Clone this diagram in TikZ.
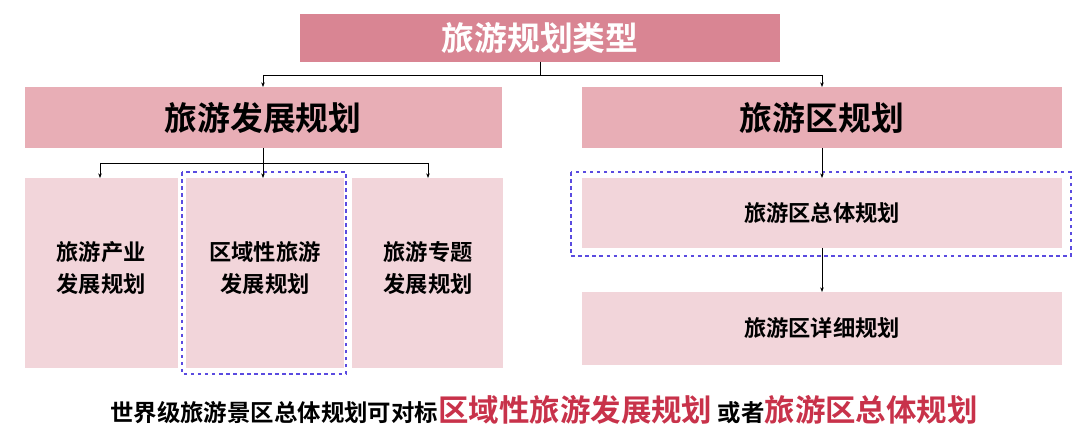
\documentclass[tikz,border=0pt]{standalone}
\usepackage{fontspec}
\setmainfont{Noto Sans CJK SC}
\newfontfamily\cjkb{Noto Sans CJK SC Bold}
\definecolor{topc}{HTML}{D98593}
\definecolor{midc}{HTML}{E8AEB6}
\definecolor{lowc}{HTML}{F2D5DA}
\definecolor{redt}{HTML}{C8324A}
\definecolor{dblue}{HTML}{5A4BE0}
\begin{document}
\begin{tikzpicture}[x=0.03cm,y=-0.03cm,
  big/.style={font=\cjkb\fontsize{28}{32}\selectfont},
  small/.style={font=\cjkb\fontsize{19}{27}\selectfont,align=center},
  arr/.style={-{Stealth[length=4pt,width=3pt]},line width=0.5pt},
  dbox/.style={draw=dblue,dashed,line width=0.9pt}]
\usetikzlibrary{arrows.meta}
\useasboundingbox (0,0) rectangle (1080,432);
\fill[topc] (300,14) rectangle (780,62);
\node[big,text=white] (top) at (540,38) {旅游规划类型};
\fill[midc] (25,87) rectangle (502,148);
\node[big] (L) at (263,118) {旅游发展规划};
\fill[midc] (582,87) rectangle (1062,148);
\node[big] (R) at (822,118) {旅游区规划};
\fill[lowc] (25,178) rectangle (178,368);
\fill[lowc] (186,178) rectangle (344,368);
\fill[lowc] (352,178) rectangle (503,368);
\node[small] (l1) at (101,268) {旅游产业\\发展规划};
\node[small] (l2) at (265,268) {区域性旅游\\发展规划};
\node[small] (l3) at (428,268) {旅游专题\\发展规划};
\draw[dbox] (182,172) rectangle (346,374);
\fill[lowc] (582,178) rectangle (1062,248);
\node[small] (r1) at (822,213) {旅游区总体规划};
\draw[dbox] (571,172) rectangle (1071,256);
\fill[lowc] (582,292) rectangle (1062,365);
\node[small] (r2) at (822,328) {旅游区详细规划};
\draw[line width=0.5pt] (540,62) -- (540,75) (263,75) -- (822,75);
\draw[arr] (263,75) -- (263,87);
\draw[arr] (822,75) -- (822,87);
\draw[line width=0.5pt] (263,148) -- (263,163) (100,163) -- (428,163);
\draw[arr] (100,163) -- (100,178);
\draw[arr] (263,163) -- (263,178);
\draw[arr] (428,163) -- (428,178);
\draw[arr] (822,148) -- (822,178);
\draw[arr] (822,248) -- (822,292);
\node[font=\cjkb\fontsize{20}{24}\selectfont] (bt) at (544,410) {世界级旅游景区总体规划可对标{\fontsize{26}{30}\selectfont\color{redt}区域性旅游发展规划} 或者{\fontsize{26}{30}\selectfont\color{redt}旅游区总体规划}};
\end{tikzpicture}
\end{document}
